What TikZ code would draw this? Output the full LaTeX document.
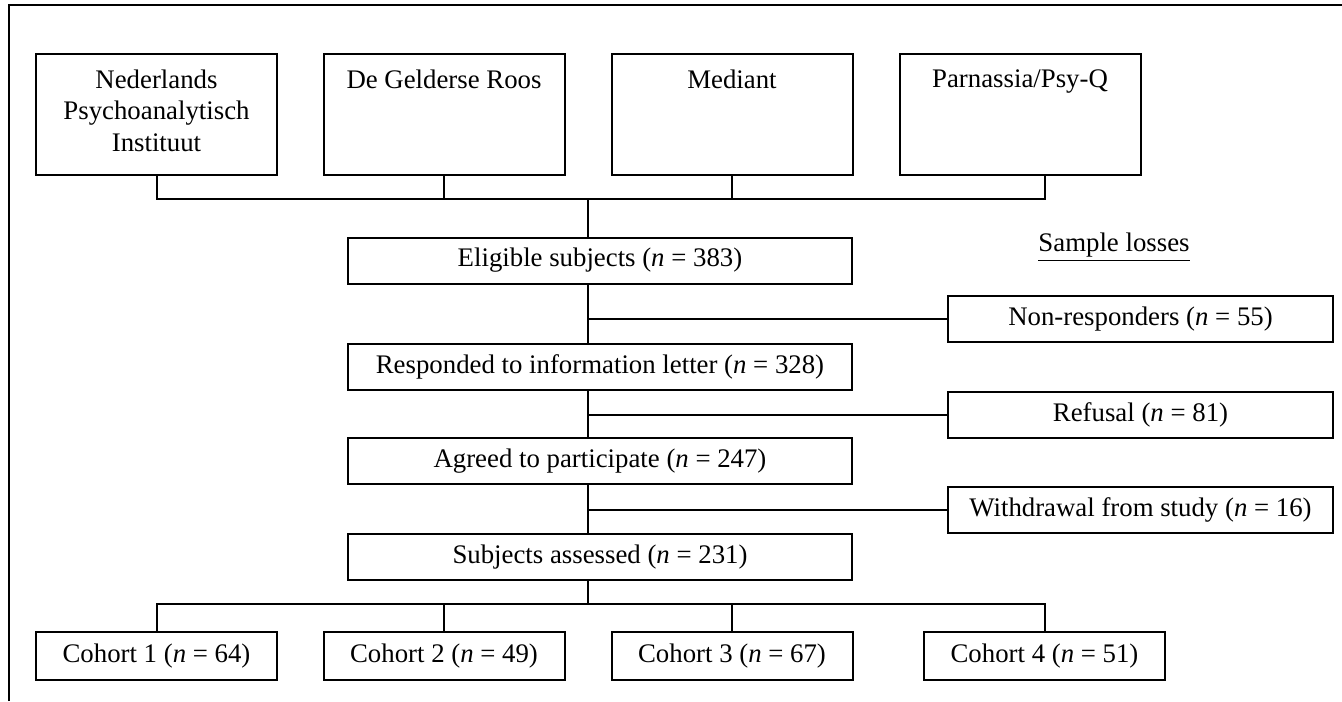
\documentclass[tikz,border=0pt]{standalone}
\usepackage{fontspec}
\setmainfont{Liberation Serif}
\newcommand{\nn}{\textit{n}}
\begin{document}
\begin{tikzpicture}[x=0.5pt, y=-0.5pt, line join=miter, line width=1pt]
\tikzset{every node/.style={font=\fontsize{13.4}{15.7}\selectfont},
  box/.style={draw, line width=1pt, inner sep=0pt},
  site/.style={box, minimum width=120.5pt, minimum height=60.5pt},
  flow/.style={box, minimum width=252pt, minimum height=23pt},
  loss/.style={box, minimum width=192.5pt, minimum height=23pt},
  cohort/.style={box, minimum width=120.5pt, minimum height=24pt}}
\useasboundingbox (0,0) rectangle (1342,701);
% frame
\draw[line width=1.2pt] (9,701)--(9,5)--(1342,5);
% sites
\foreach \name/\x/\txt in {nip/156.5/{Nederlands\\Psychoanalytisch\\Instituut},
  gr/444/{De Gelderse Roos}, med/732/{Mediant}, par/1020/{Parnassia/Psy-Q}}{
  \node[site] (\name) at (\x,114.5) {};
  \node[anchor=north, align=center, yshift=-4.5pt] (\name-txt) at (\name.north) {\txt};
}
% main flow
\node[flow] (elig) at (600,260.5) {Eligible subjects (\nn{} = 383)};
\node[flow] (resp) at (600,367) {Responded to information letter (\nn{} = 328)};
\node[flow] (agree) at (600,461) {Agreed to participate (\nn{} = 247)};
\node[flow] (assess) at (600,557) {Subjects assessed (\nn{} = 231)};
% losses
\node (losses) at (1114,247) {\underline{Sample losses}};
\node[loss] (nonresp) at (1140.5,319) {Non-responders (\nn{} = 55)};
\node[loss] (refuse) at (1140.5,414.5) {Refusal (\nn{} = 81)};
\node[loss] (withdraw) at (1140.5,510) {Withdrawal from study (\nn{} = 16)};
% cohorts
\foreach \i/\x in {1/156.5, 2/444, 3/732, 4/1044.5}
  \node[cohort] (c\i) at (\x,656) {Cohort \i{} (\nn{} = \ifcase\i\or64\or49\or67\or51\fi)};
% connectors
\coordinate (topbar) at (0,199);
\coordinate (stem) at (588,199);
\coordinate (lowbar) at (0,604);
\draw (nip.south) -- (nip.south |- topbar) -- (topbar -| c4.north) -- (par.south -| c4.north);
\foreach \n in {gr,med} \draw (\n.south) -- (\n.south |- topbar);
\draw (stem) -- (stem |- elig.north);
\draw (stem |- elig.south) -- (stem |- resp.north);
\draw (stem |- resp.south) -- (stem |- agree.north);
\draw (stem |- agree.south) -- (stem |- assess.north);
\draw (stem |- assess.south) -- (stem |- lowbar);
\draw (stem |- nonresp.west) -- (nonresp.west);
\draw (stem |- refuse.west) -- (refuse.west);
\draw (stem |- withdraw.west) -- (withdraw.west);
\draw (c1.north) -- (c1.north |- lowbar) -- (c4.north |- lowbar) -- (c4.north);
\foreach \i in {2,3} \draw (c\i.north) -- (c\i.north |- lowbar);
\end{tikzpicture}
\end{document}
